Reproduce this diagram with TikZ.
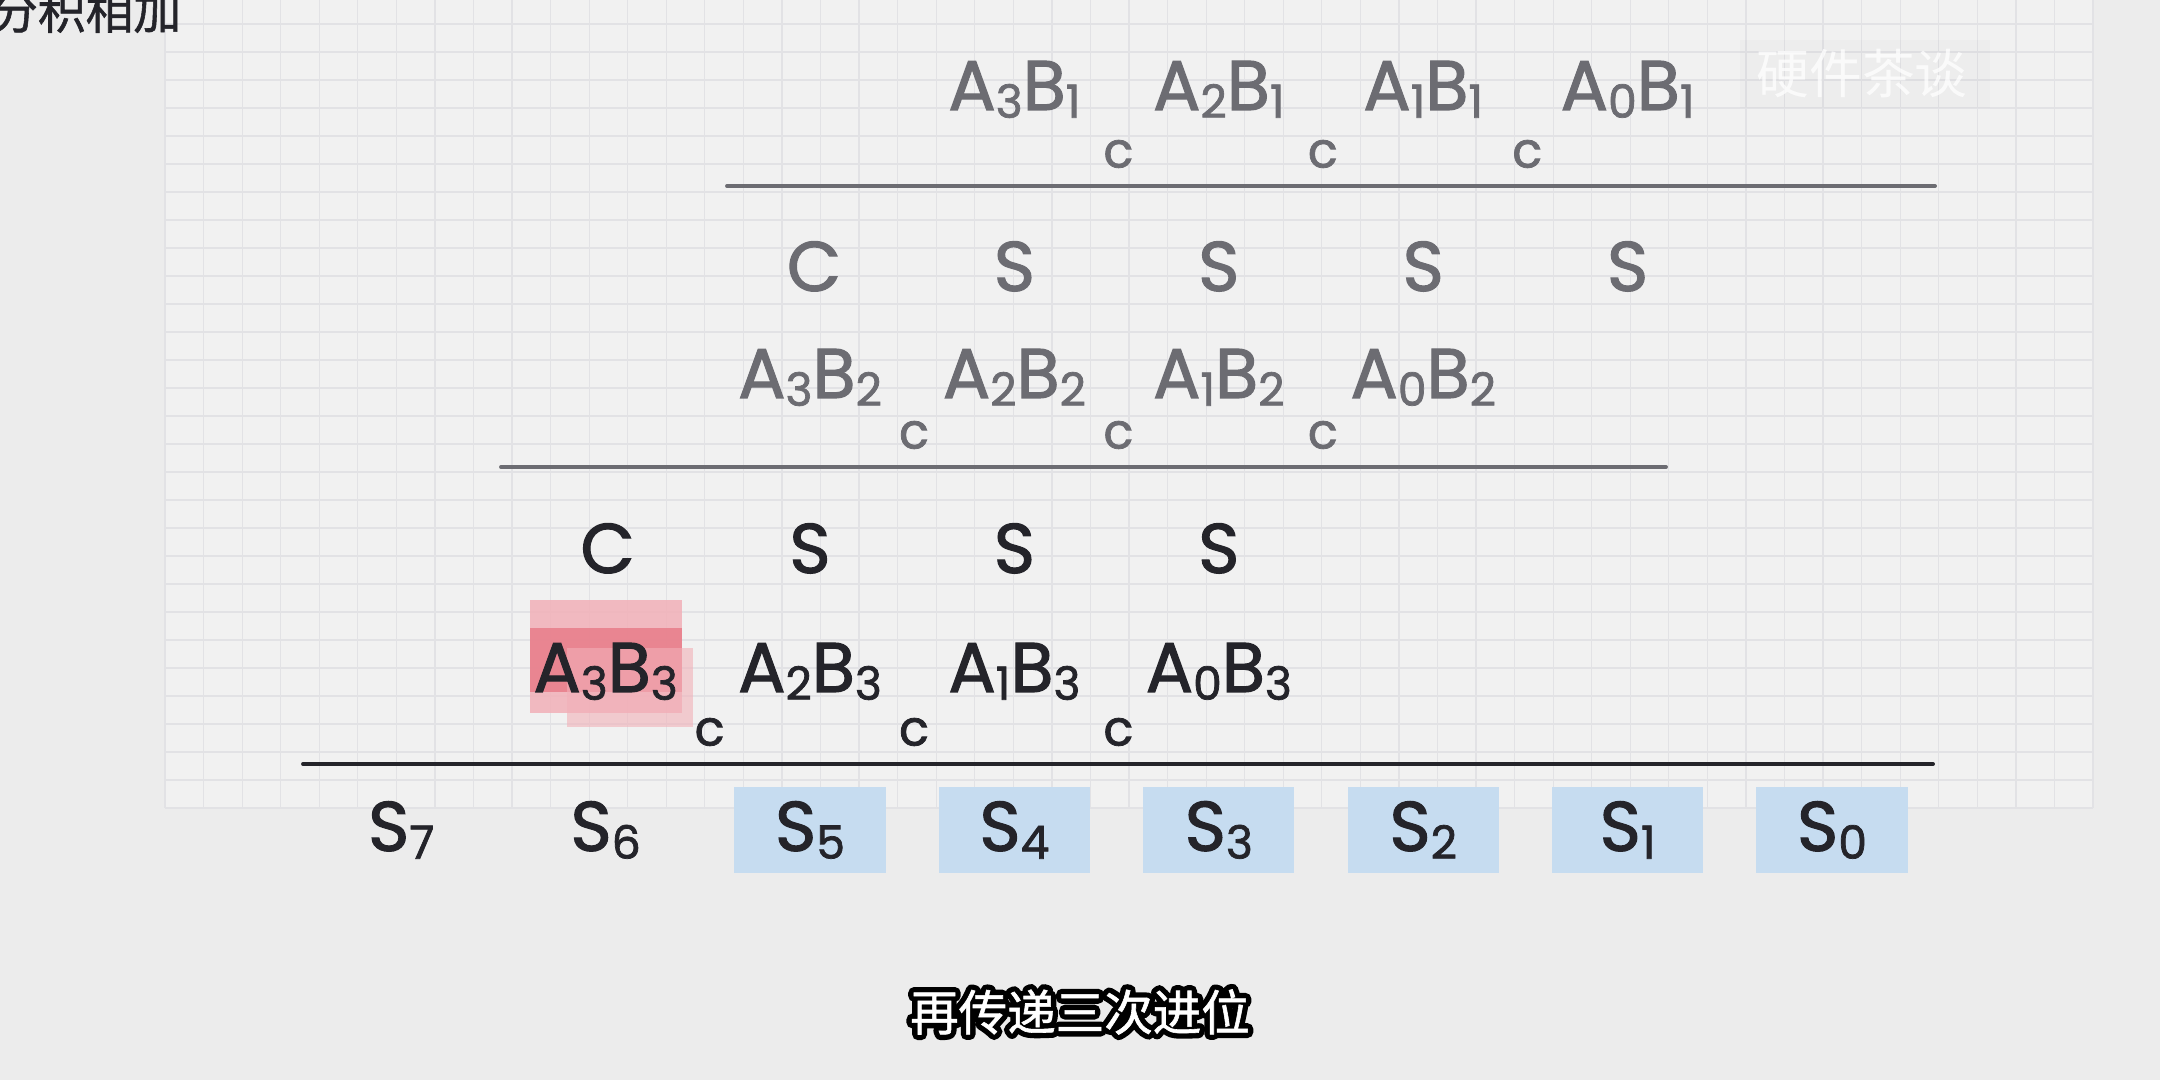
\documentclass[tikz,border=0pt]{standalone}
\usepackage{fontspec}
\setmainfont{Poppins}[FakeBold=1.6]
\newfontfamily\cjk{Noto Sans CJK SC}[FakeBold=1.2]
\newfontfamily\cjkplain{Noto Sans CJK SC}
\usetikzlibrary{positioning, calc}
\definecolor{PaperGray}{RGB}{236,236,236}
\definecolor{SheetGray}{RGB}{241,241,241}
\definecolor{GridGray}{RGB}{226,226,229}
\definecolor{InkGray}{RGB}{108,108,114}
\definecolor{InkDark}{RGB}{36,36,42}
\definecolor{SumBlue}{RGB}{198,220,240}
\definecolor{MarkRed}{RGB}{230,112,126}
\definecolor{MarkPink}{RGB}{242,176,184}

\newcommand{\sdig}[1]{\raisebox{-2.2pt}{\fontsize{13}{13}\selectfont #1}}
\newcommand{\AB}[2]{A\sdig{#1}B\sdig{#2}}
\newcommand{\Sbit}[1]{S\sdig{#1}}
\newcommand{\outlined}[1]{\special{pdf:literal 2 Tr 3.2 w 1 j}#1\special{pdf:literal 0 Tr 0.4 w 0 j}}

\tikzset{
  term/.style={inner sep=0pt, anchor=base, font=\fontsize{20}{24}\selectfont},
  faded/.style={term, text=InkGray},
  inked/.style={term, text=InkDark},
  carrybit/.style={inner sep=0pt, font=\fontsize{14}{14}\selectfont},
  sumbox/.style={inner sep=0pt, minimum width=1.51cm, minimum height=0.86cm,
    text=InkDark, font=\fontsize{20}{24}\selectfont},
  rule/.style={line width=1.1pt, line cap=round}
}

\begin{document}
\begin{tikzpicture}[x=0.01cm, y=-0.01cm]
  % paper and grid
  \fill[PaperGray] (0,0) rectangle (2160,1080);
  \useasboundingbox (0,0) rectangle (2160,1080);
  \fill[SheetGray] (165,0) rectangle (2093,808);
  \foreach \i in {0,...,50}
    \draw[GridGray, line width=0.35pt] ({165+38.56*\i},0) -- ({165+38.56*\i},808);
  \foreach \j in {0,...,28}
    \draw[GridGray, line width=0.35pt] (165,{808-28*\j}) -- (2093,{808-28*\j});

  % title and watermark
  \node[anchor=base east, inner sep=0pt, text=InkDark, font=\cjk\fontsize{13.6}{14}\selectfont] (title) at (182,29) {分积相加};
  \fill[black, opacity=0.015] (1740,40) rectangle (1990,108);
  \node[text=white, opacity=0.75, font=\cjkplain\fontsize{15}{15}\selectfont] (mark) at (1862,74) {硬件茶谈};

  % first partial product and its carries
  \foreach \i/\k in {3/4,2/3,1/2,0/1}
    \node[faded] (pa\i) at ({1832-204.4*\k},110) {\AB{\i}{1}};
  \foreach \k in {4,3,2}
    \node[carrybit, text=InkGray] (ca\k) at ({1936-204.4*\k},154) {c};
  \coordinate (la1) at (727,186);
  \coordinate (la2) at (1935,186);
  \draw[rule, InkGray] (la1) -- (la2);

  \node[faded] (ra5) at ({1836-204.4*5},291) {C};
  \foreach \k in {4,3,2,1}
    \node[faded] (ra\k) at ({1832-204.4*\k},291) {S};

  % second partial product
  \foreach \i/\k in {3/5,2/4,1/3,0/2}
    \node[faded] (pb\i) at ({1832-204.4*\k},398) {\AB{\i}{2}};
  \foreach \k in {5,4,3}
    \node[carrybit, text=InkGray] (cb\k) at ({1936-204.4*\k},435) {c};
  \coordinate (lb1) at (501,467);
  \coordinate (lb2) at (1666,467);
  \draw[rule, InkGray] (lb1) -- (lb2);

  \node[inked] (rb6) at ({1834-204.4*6},573) {C};
  \foreach \k in {5,4,3}
    \node[inked] (rb\k) at ({1832-204.4*\k},573) {S};

  % highlight on A3B3
  \fill[MarkPink, opacity=0.85] (530,600) rectangle (682,713);
  \fill[MarkRed, opacity=0.7] (530,628) rectangle (682,692);
  \fill[MarkPink, opacity=0.6] (567,648) rectangle (693,727);

  % third partial product
  \foreach \i/\k in {3/6,2/5,1/4,0/3}
    \node[inked] (pc\i) at ({1832-204.4*\k},692) {\AB{\i}{3}};
  \foreach \k in {6,5,4}
    \node[carrybit, text=InkDark] (cc\k) at ({1936-204.4*\k},732) {c};
  \coordinate (lc1) at (303,764);
  \coordinate (lc2) at (1933,764);
  \draw[rule, InkDark] (lc1) -- (lc2);

  % result bits
  \foreach \k in {7,6}
    \node[sumbox] (s\k) at ({1832-204.4*\k},830) {\Sbit{\k}};
  \foreach \k in {5,...,0}
    \node[sumbox, fill=SumBlue] (s\k) at ({1832-204.4*\k},830) {\Sbit{\k}};

  % subtitle: black outline under white letters
  \node[text=black, font=\cjkplain\fontsize{13.8}{15}\selectfont] (subedge) at (1080,1012) {\outlined{再传递三次进位}};
  \node[text=white, font=\cjk\fontsize{13.8}{15}\selectfont] (subtitle) at (subedge.center) {再传递三次进位};
\end{tikzpicture}
\end{document}
